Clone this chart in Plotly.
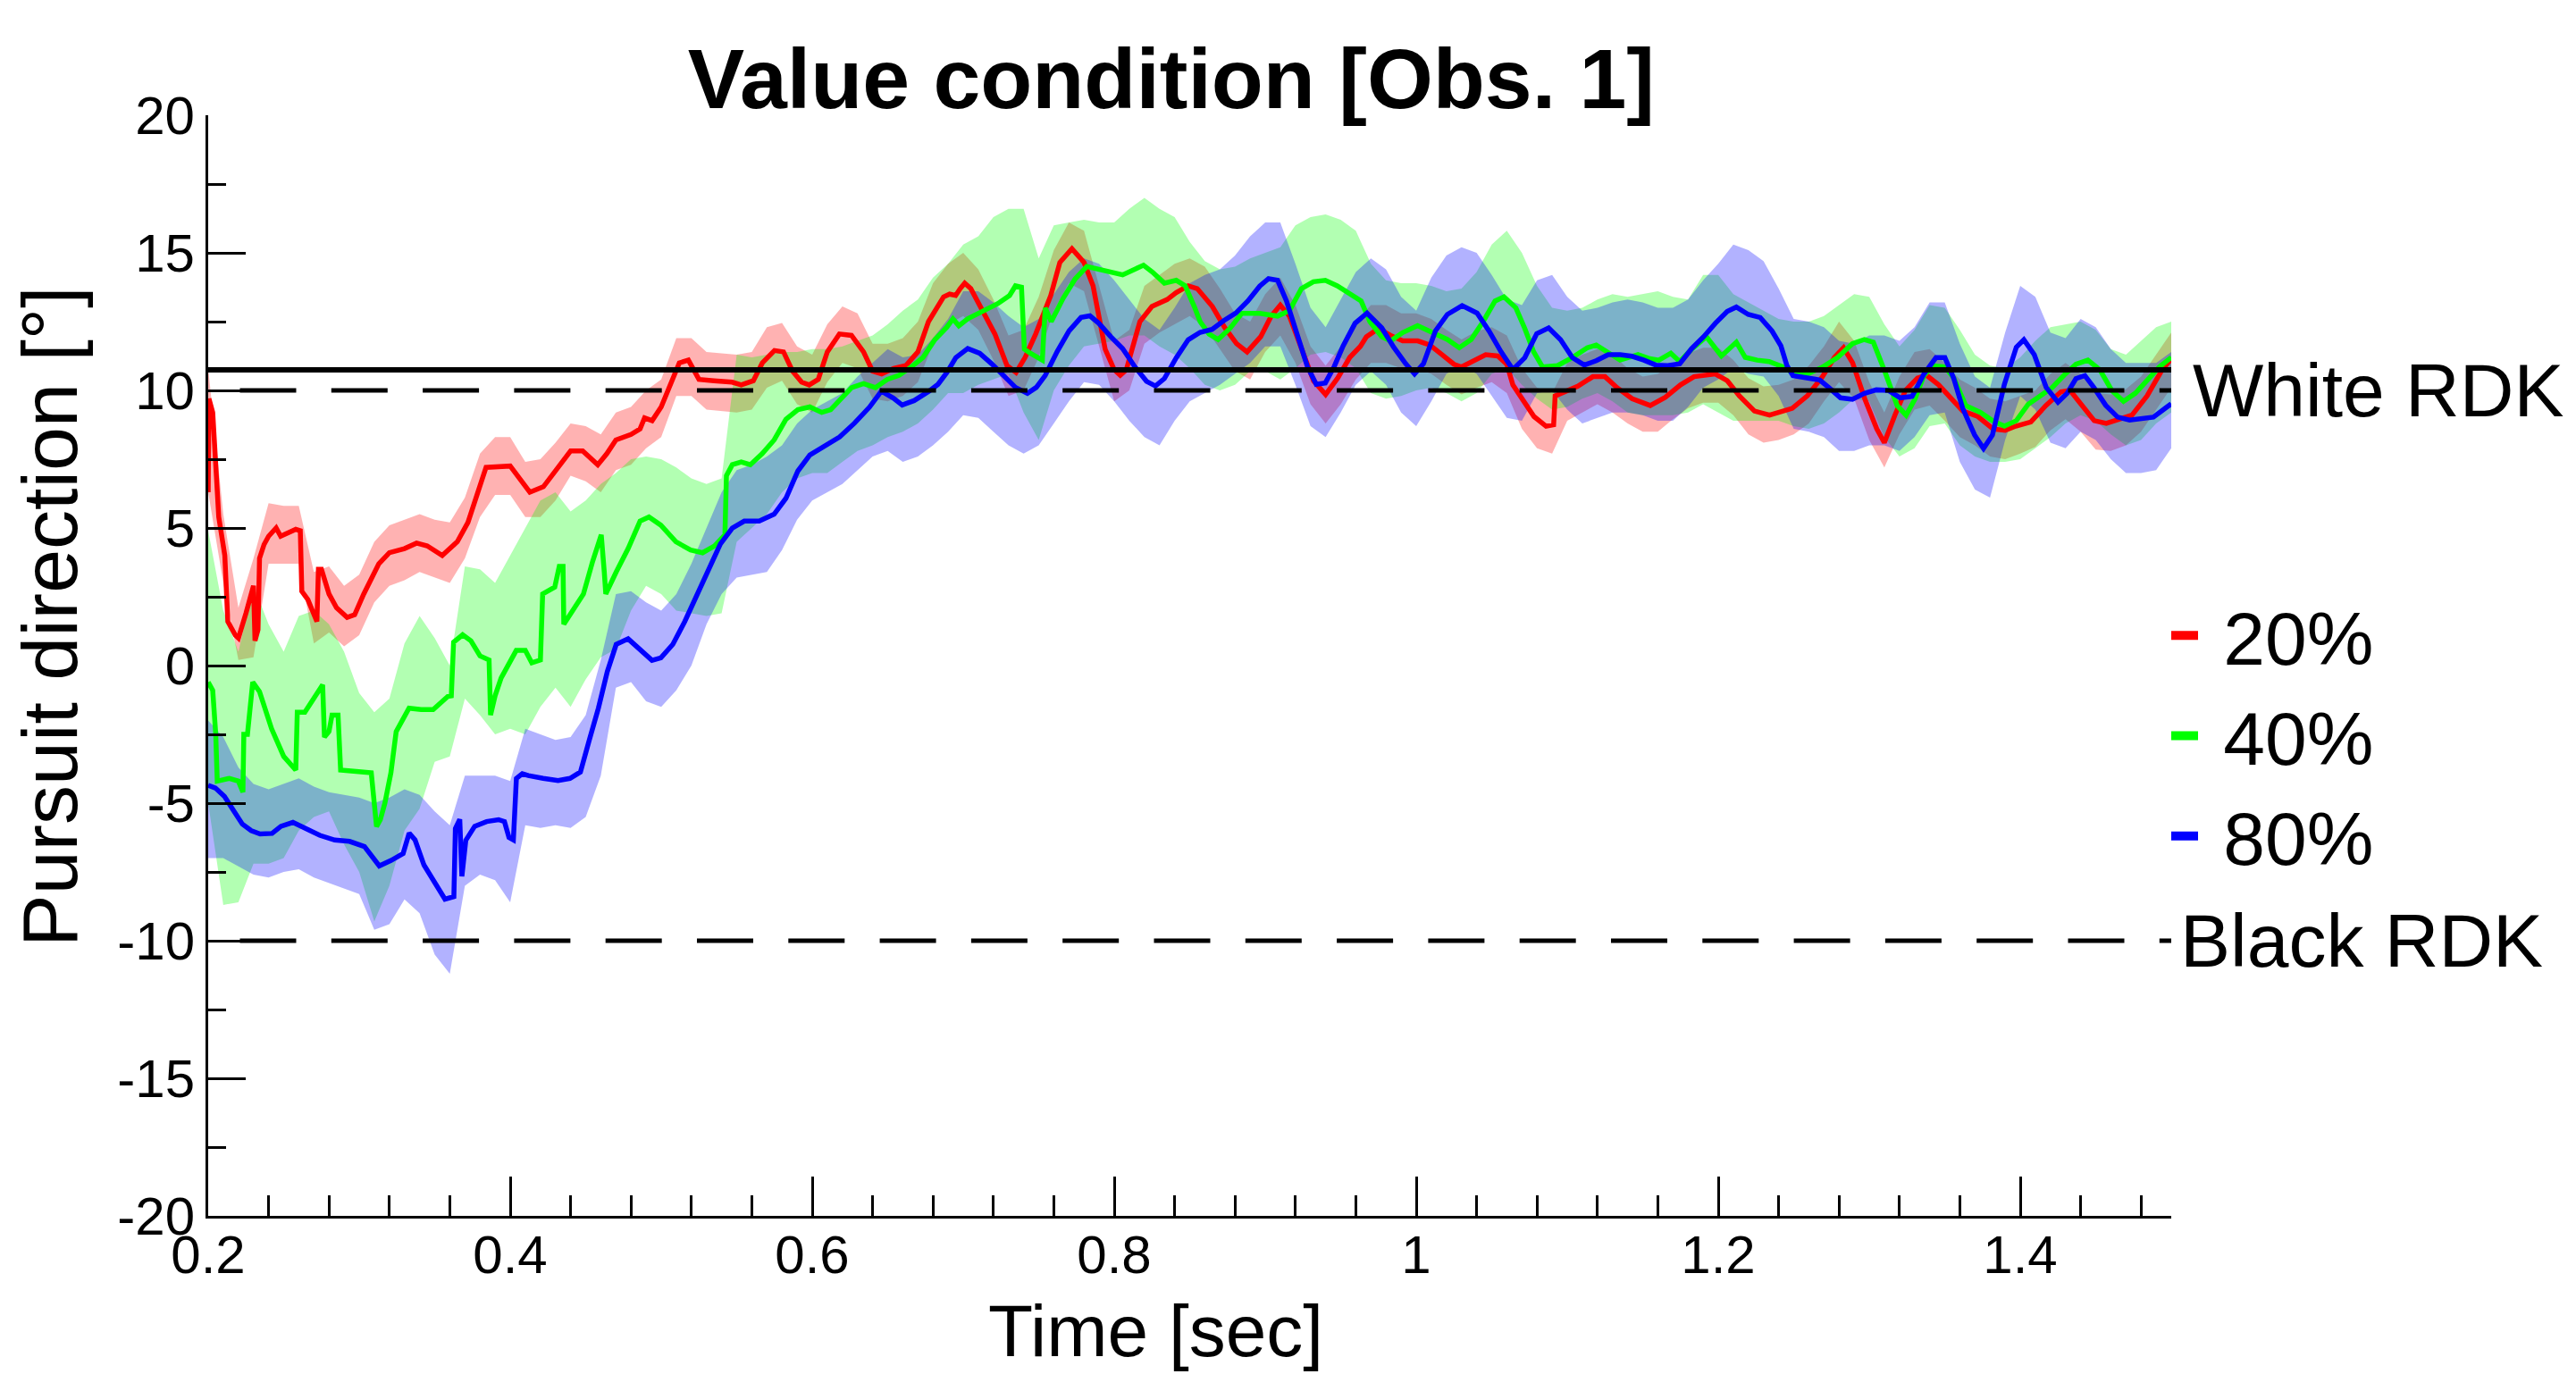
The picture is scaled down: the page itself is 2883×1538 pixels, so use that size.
import plotly.graph_objects as go

# ---------------- data ----------------
SERIES_NAMES = ["20%", "40%", "80%"]

red_t = [0.200, 0.2005, 0.203, 0.205, 0.207, 0.211, 0.213, 0.218, 0.220, 0.225,
         0.229, 0.230, 0.231, 0.233, 0.234, 0.237, 0.240, 0.245, 0.248, 0.252,
         0.258, 0.261, 0.262, 0.266, 0.272, 0.273, 0.275, 0.280, 0.285, 0.292,
         0.297, 0.303, 0.313, 0.320, 0.330, 0.338, 0.345, 0.355, 0.365, 0.372,
         0.378, 0.384, 0.400, 0.408, 0.413, 0.422, 0.432, 0.440, 0.448, 0.458,
         0.464, 0.470, 0.480, 0.486, 0.489, 0.494, 0.500, 0.506, 0.512, 0.518,
         0.522, 0.525, 0.535, 0.547, 0.553, 0.561, 0.567, 0.575, 0.581, 0.587,
         0.593, 0.598, 0.604, 0.610, 0.618, 0.626, 0.634, 0.640, 0.646, 0.654,
         0.662, 0.670, 0.677, 0.683, 0.687, 0.691, 0.695, 0.698, 0.701, 0.705,
         0.713, 0.721, 0.729, 0.735, 0.741, 0.748, 0.758, 0.764, 0.772, 0.780,
         0.786, 0.791, 0.794, 0.800, 0.804, 0.808, 0.813, 0.817, 0.825, 0.835,
         0.841, 0.849, 0.855, 0.865, 0.873, 0.881, 0.888, 0.897, 0.904, 0.910,
         0.916, 0.924, 0.932, 0.940, 0.948, 0.956, 0.963, 0.967, 0.975, 0.983,
         0.991, 1.001, 1.009, 1.017, 1.025, 1.030, 1.038, 1.046, 1.054, 1.060,
         1.064, 1.070, 1.078, 1.086, 1.091, 1.092, 1.100, 1.107, 1.117, 1.125,
         1.133, 1.143, 1.155, 1.165, 1.175, 1.184, 1.198, 1.206, 1.214, 1.224,
         1.234, 1.240, 1.249, 1.259, 1.269, 1.277, 1.283, 1.289, 1.297, 1.305,
         1.310, 1.317, 1.324, 1.332, 1.338, 1.346, 1.354, 1.362, 1.372, 1.382,
         1.390, 1.397, 1.407, 1.417, 1.427, 1.433, 1.441, 1.449, 1.457, 1.465,
         1.474, 1.484, 1.494, 1.500]
red_mean = [6.3, 9.7, 9.2, 7.6, 5.4, 4.0, 1.6, 1.1, 1.0, 1.9,
            2.6, 2.9, 0.9, 1.3, 3.9, 4.4, 4.7, 5.0, 4.7, 4.8,
            4.95, 4.9, 2.7, 2.4, 1.6, 3.5, 3.5, 2.6, 2.1, 1.75,
            1.85, 2.6, 3.7, 4.1, 4.25, 4.45, 4.35, 4.0, 4.5, 5.2,
            6.2, 7.2, 7.25, 6.7, 6.3, 6.5, 7.2, 7.8, 7.8, 7.3,
            7.7, 8.2, 8.4, 8.6, 9.0, 8.9, 9.4, 10.2, 11.0, 11.1,
            10.7, 10.4, 10.35, 10.3, 10.2, 10.35, 11.0, 11.45, 11.4, 10.7,
            10.3, 10.2, 10.4, 11.4, 12.05, 12.0, 11.4, 10.7, 10.6, 10.8,
            10.9, 11.4, 12.5, 13.0, 13.4, 13.5, 13.45, 13.7, 13.9, 13.7,
            12.9, 12.05, 10.9, 10.65, 11.2, 12.05, 13.45, 14.65, 15.15, 14.65,
            13.8, 12.4, 11.5, 10.75, 10.55, 10.75, 11.75, 12.5, 13.05, 13.3,
            13.55, 13.8, 13.7, 13.05, 12.3, 11.7, 11.4, 11.95, 12.7, 13.1,
            12.7, 11.5, 10.35, 9.85, 10.45, 11.2, 11.6, 11.95, 12.25, 12.0,
            11.8, 11.8, 11.65, 11.3, 10.95, 10.85, 11.1, 11.3, 11.25, 10.95,
            10.2, 9.7, 9.05, 8.7, 8.75, 9.8, 10.0, 10.15, 10.5, 10.5,
            10.1, 9.7, 9.45, 9.75, 10.2, 10.5, 10.6, 10.35, 9.8, 9.25,
            9.1, 9.2, 9.35, 9.8, 10.5, 11.2, 11.55, 11.0, 9.7, 8.6,
            8.1, 9.1, 10.0, 10.45, 10.55, 10.2, 9.7, 9.25, 9.05, 8.6,
            8.55, 8.7, 8.85, 9.45, 9.95, 10.0, 9.45, 8.9, 8.8, 8.95,
            9.1, 9.8, 10.75, 11.15]

green_t = [0.200, 0.203, 0.205, 0.206, 0.214, 0.220, 0.223, 0.2236, 0.226, 0.2295,
           0.234, 0.242, 0.250, 0.258, 0.259, 0.264, 0.2758, 0.277, 0.280, 0.282,
           0.286, 0.2877, 0.298, 0.308, 0.3115, 0.314, 0.317, 0.321, 0.3245, 0.333,
           0.341, 0.349, 0.3587, 0.361, 0.3625, 0.3685, 0.374, 0.380, 0.386, 0.387,
           0.390, 0.394, 0.404, 0.410, 0.4143, 0.420, 0.4215, 0.4295, 0.4325, 0.435,
           0.4355, 0.4415, 0.4485, 0.4544, 0.4593, 0.4603, 0.4623, 0.4633, 0.4702, 0.4781,
           0.4860, 0.4919, 0.4998, 0.5097, 0.5195, 0.5274, 0.5353, 0.5422, 0.5432, 0.5471,
           0.5530, 0.5590, 0.5669, 0.5748, 0.5826, 0.5905, 0.5984, 0.6063, 0.6122, 0.6182,
           0.6261, 0.6340, 0.6418, 0.6497, 0.6576, 0.6655, 0.6734, 0.6813, 0.6892, 0.6932,
           0.6971, 0.7030, 0.7129, 0.7228, 0.7307, 0.7346, 0.7386, 0.7405, 0.7445, 0.7484,
           0.7524, 0.7543, 0.7583, 0.7662, 0.7741, 0.7819, 0.7898, 0.7977, 0.8056, 0.8135,
           0.8194, 0.8253, 0.8332, 0.8411, 0.8470, 0.8530, 0.8569, 0.8628, 0.8688, 0.8766,
           0.8845, 0.8964, 0.9082, 0.9161, 0.9240, 0.9319, 0.9398, 0.9477, 0.9556, 0.9635,
           0.9693, 0.9772, 0.9831, 0.9910, 1.0009, 1.0107, 1.0206, 1.0285, 1.0364, 1.0443,
           1.0522, 1.0581, 1.0660, 1.0719, 1.0778, 1.0837, 1.0936, 1.1035, 1.1133, 1.1192,
           1.1271, 1.1350, 1.1469, 1.1547, 1.1607, 1.1686, 1.1745, 1.1824, 1.1922, 1.2021,
           1.2120, 1.2179, 1.2258, 1.2337, 1.2455, 1.2495, 1.2593, 1.2692, 1.2791, 1.2889,
           1.2968, 1.3027, 1.3106, 1.3185, 1.3244, 1.3304, 1.3363, 1.3422, 1.3501, 1.3560,
           1.3639, 1.3737, 1.3816, 1.3895, 1.3974, 1.4053, 1.4132, 1.4211, 1.4290, 1.4369,
           1.4448, 1.4527, 1.4606, 1.4684, 1.4763, 1.4842, 1.4921, 1.5000]
green_mean = [-0.6, -0.9, -2.5, -4.2, -4.1, -4.2, -4.6, -2.5, -2.5, -0.6,
              -0.95, -2.3, -3.3, -3.8, -1.7, -1.7, -0.7, -2.6, -2.4, -1.8,
              -1.8, -3.8, -3.85, -3.9, -5.85, -5.6, -5.0, -3.9, -2.4, -1.55,
              -1.6, -1.6, -1.12, -1.1, 0.85, 1.12, 0.9, 0.35, 0.2, -1.8,
              -1.1, -0.45, 0.55, 0.55, 0.1, 0.2, 2.6, 2.85, 3.6, 3.6,
              1.5, 2.0, 2.6, 3.75, 4.6, 4.75, 3.4, 2.6, 3.4, 4.25,
              5.25, 5.4, 5.1, 4.5, 4.2, 4.1, 4.35, 4.75, 6.9, 7.3,
              7.4, 7.3, 7.7, 8.2, 8.95, 9.3, 9.4, 9.2, 9.3, 9.65,
              10.1, 10.25, 10.1, 10.4, 10.55, 10.85, 11.2, 11.85, 12.3, 12.6,
              12.35, 12.6, 12.9, 13.15, 13.45, 13.8, 13.75, 11.5, 11.35, 11.2,
              11.1, 13.0, 12.5, 13.35, 14.05, 14.5, 14.4, 14.3, 14.2, 14.4,
              14.55, 14.3, 13.9, 14.0, 13.8, 13.05, 12.5, 12.05, 11.85, 12.25,
              12.8, 12.8, 12.7, 12.9, 13.7, 13.95, 14.0, 13.8, 13.55, 13.25,
              12.5, 11.95, 11.8, 12.1, 12.35, 12.1, 11.85, 11.55, 11.85, 12.5,
              13.25, 13.4, 13.0, 12.25, 11.4, 10.85, 10.9, 11.2, 11.55, 11.65,
              11.4, 11.1, 11.3, 11.15, 11.1, 11.35, 11.05, 11.5, 11.95, 11.25,
              11.75, 11.2, 11.1, 11.05, 10.8, 10.6, 10.6, 10.85, 11.2, 11.7,
              11.85, 11.75, 10.65, 9.45, 9.1, 9.7, 10.55, 10.9, 10.85, 10.45,
              9.45, 9.2, 8.9, 8.7, 8.9, 9.5, 9.8, 10.1, 10.55, 10.95,
              11.1, 10.75, 10.0, 9.6, 9.9, 10.35, 10.85, 11.2]

blue_t = [0.200, 0.2048, 0.2108, 0.2167, 0.2226, 0.2285, 0.2344, 0.2423, 0.2482, 0.2561,
          0.2640, 0.2739, 0.2838, 0.2936, 0.3035, 0.3094, 0.3133, 0.3212, 0.3291, 0.3331,
          0.3370, 0.3429, 0.3508, 0.3568, 0.3627, 0.3637, 0.3666, 0.3680, 0.3706, 0.3765,
          0.3844, 0.3923, 0.3962, 0.3992, 0.4021, 0.4041, 0.4080, 0.4120, 0.4218, 0.4317,
          0.4396, 0.4465, 0.4524, 0.4584, 0.4643, 0.4702, 0.4781, 0.4860, 0.4939, 0.4998,
          0.5077, 0.5156, 0.5235, 0.5313, 0.5392, 0.5471, 0.5550, 0.5649, 0.5748, 0.5826,
          0.5905, 0.5984, 0.6083, 0.6182, 0.6280, 0.6379, 0.6458, 0.6537, 0.6596, 0.6675,
          0.6773, 0.6833, 0.6892, 0.6951, 0.7030, 0.7109, 0.7188, 0.7267, 0.7346, 0.7425,
          0.7484, 0.7543, 0.7622, 0.7701, 0.7780, 0.7839, 0.7898, 0.7977, 0.8056, 0.8135,
          0.8214, 0.8273, 0.8332, 0.8411, 0.8490, 0.8569, 0.8648, 0.8727, 0.8806, 0.8885,
          0.8964, 0.9022, 0.9082, 0.9141, 0.9200, 0.9279, 0.9338, 0.9398, 0.9457, 0.9516,
          0.9595, 0.9674, 0.9772, 0.9851, 0.9930, 0.9989, 1.0048, 1.0127, 1.0206, 1.0304,
          1.0403, 1.0482, 1.0561, 1.0640, 1.0719, 1.0798, 1.0877, 1.0956, 1.1034, 1.1113,
          1.1192, 1.1271, 1.1350, 1.1429, 1.1508, 1.1587, 1.1666, 1.1745, 1.1824, 1.1903,
          1.1981, 1.2060, 1.2120, 1.2199, 1.2278, 1.2356, 1.2415, 1.2455, 1.2495, 1.2593,
          1.2672, 1.2731, 1.2810, 1.2889, 1.2968, 1.3047, 1.3126, 1.3205, 1.3284, 1.3363,
          1.3442, 1.3501, 1.3560, 1.3619, 1.3698, 1.3757, 1.3816, 1.3895, 1.3974, 1.4024,
          1.4093, 1.4172, 1.4250, 1.4310, 1.4369, 1.4428, 1.4487, 1.4566, 1.4645, 1.4724,
          1.4803, 1.4882, 1.4960, 1.5000]
blue_mean = [-4.35, -4.45, -4.76, -5.26, -5.76, -6.0, -6.12, -6.1, -5.84, -5.7,
             -5.92, -6.17, -6.34, -6.39, -6.58, -7.0, -7.28, -7.08, -6.83, -6.09,
             -6.34, -7.25, -7.99, -8.49, -8.4, -5.92, -5.59, -7.66, -6.35, -5.84,
             -5.67, -5.6, -5.67, -6.25, -6.34, -4.1, -3.93, -4.0, -4.1, -4.18,
             -4.1, -3.87, -2.7, -1.55, -0.22, 0.77, 0.97, 0.6, 0.19, 0.28,
             0.77, 1.6, 2.51, 3.42, 4.42, 5.0, 5.25, 5.25, 5.5, 6.08,
             7.07, 7.65, 7.98, 8.31, 8.81, 9.39, 9.97, 9.72, 9.47, 9.63,
             9.97, 10.22, 10.65, 11.19, 11.52, 11.35, 10.97, 10.54, 10.11, 9.89,
             10.11, 10.54, 11.41, 12.16, 12.65, 12.71, 12.44, 11.95, 11.52, 10.87,
             10.33, 10.16, 10.43, 11.19, 11.84, 12.11, 12.22, 12.54, 12.81, 13.25,
             13.79, 14.06, 14.0, 13.25, 12.27, 10.87, 10.22, 10.27, 10.87, 11.62,
             12.44, 12.81, 12.27, 11.57, 10.97, 10.6, 10.97, 12.16, 12.76, 13.08,
             12.81, 12.16, 11.41, 10.76, 11.19, 12.06, 12.27, 11.84, 11.19, 10.92,
             11.08, 11.3, 11.3, 11.24, 11.1, 10.92, 10.9, 10.97, 11.52, 11.95,
             12.44, 12.87, 13.03, 12.76, 12.65, 12.16, 11.62, 10.9, 10.54, 10.43,
             10.38, 10.11, 9.73, 9.68, 9.89, 10.02, 10.0, 9.73, 9.78, 10.6,
             11.19, 11.19, 10.43, 9.35, 8.38, 7.89, 8.38, 10.22, 11.57, 11.84,
             11.3, 10.11, 9.57, 9.89, 10.43, 10.54, 10.11, 9.46, 9.03, 8.92,
             8.97, 9.03, 9.35, 9.51]

# shaded error bands, sampled every 10 ms from 0.20 s to 1.50 s
BAND_T = [round(0.20 + 0.01 * i, 2) for i in range(131)]

red_hi = [10.8, 5.5, 2.1, 3.9, 5.9, 5.8, 5.8, 3.4, 3.6, 2.9,
          3.3, 4.5, 5.1, 5.3, 5.5, 5.3, 5.2, 6.1, 7.7, 8.3,
          8.3, 7.4, 7.5, 8.1, 8.8, 8.7, 8.4, 9.2, 9.4, 10.0,
          10.4, 11.9, 11.9, 11.4, 11.35, 11.3, 11.4, 12.3, 12.45, 11.6,
          11.3, 12.4, 13.05, 12.8, 11.7, 11.7, 11.9, 12.5, 13.9, 14.6,
          15.0, 14.4, 13.3, 12.0, 12.2, 13.4, 15.1, 16.1, 15.8, 13.8,
          11.8, 12.2, 13.8, 14.2, 14.6, 14.8, 14.5, 13.7, 12.8, 12.5,
          13.5, 14.1, 13.1, 11.6, 10.9, 11.6, 12.5, 13.1, 13.1, 12.8,
          12.8, 12.6, 12.2, 11.85, 12.15, 12.3, 12.0, 10.8, 10.1, 9.9,
          11.0, 11.3, 11.5, 11.3, 10.8, 10.5, 10.6, 10.95, 11.35, 11.55,
          11.55, 11.1, 10.45, 10.15, 10.2, 10.4, 10.9, 11.6, 12.5, 11.8,
          10.3, 9.2, 10.5, 11.4, 11.5, 11.0, 10.4, 10.1, 9.7, 9.6,
          9.8, 10.0, 10.6, 11.0, 10.6, 9.9, 9.85, 10.05, 10.5, 11.3,
          12.1]
red_lo = [6.3, 3.0, 0.2, 0.3, 3.7, 3.7, 3.7, 0.8, 1.2, 0.7,
          1.1, 2.3, 2.9, 3.1, 3.4, 3.2, 3.0, 3.9, 5.4, 6.2,
          6.2, 5.4, 5.4, 6.0, 6.9, 6.7, 6.3, 7.1, 7.3, 7.9,
          8.3, 9.8, 9.8, 9.3, 9.25, 9.2, 9.3, 10.1, 10.35, 9.5,
          9.2, 10.3, 11.0, 10.8, 9.7, 9.6, 9.8, 10.3, 11.7, 12.4,
          12.7, 12.2, 11.1, 9.8, 10.0, 11.2, 12.9, 13.9, 13.6, 11.6,
          9.6, 10.0, 11.7, 12.1, 12.4, 12.7, 12.3, 11.5, 10.7, 10.4,
          11.4, 12.0, 11.0, 9.5, 8.8, 9.5, 10.4, 11.0, 11.0, 10.8,
          10.8, 10.6, 10.2, 9.85, 10.1, 10.3, 9.9, 8.6, 7.9, 7.7,
          8.9, 9.2, 9.5, 9.2, 8.8, 8.5, 8.5, 8.95, 9.35, 9.55,
          9.55, 9.1, 8.4, 8.1, 8.2, 8.4, 8.8, 9.6, 10.3, 9.7,
          8.2, 7.2, 8.4, 9.3, 9.45, 8.9, 8.3, 8.0, 7.6, 7.5,
          7.7, 7.95, 8.55, 8.95, 8.5, 7.85, 7.8, 8.0, 8.5, 9.3,
          10.1]

green_hi = [4.9, 2.0, 0.5, 2.9, 1.5, 0.5, 1.8, 2.0, 1.5, 0.5,
            -1.0, -1.7, -1.2, 0.8, 1.8, 1.0, 0.0, 3.6, 3.5, 3.0,
            4.0, 5.0, 6.0, 6.3, 5.6, 6.0, 6.6, 7.0, 7.5, 7.6,
            7.5, 7.2, 6.8, 6.6, 6.8, 11.3, 11.2, 11.3, 11.4, 11.4,
            11.5, 11.5, 11.6, 11.8, 12.0, 12.4, 12.9, 13.3, 14.1, 14.6,
            15.3, 15.6, 16.3, 16.6, 16.6, 14.8, 16.0, 16.1, 16.2, 16.1,
            16.1, 16.6, 17.0, 16.6, 16.3, 15.4, 14.7, 14.4, 14.5, 14.8,
            15.0, 15.2, 16.0, 16.3, 16.4, 16.2, 15.8, 14.6, 14.0, 13.9,
            13.9, 13.8, 13.6, 13.7, 14.3, 15.3, 15.8, 15.0, 13.8, 13.0,
            12.9, 13.0, 13.3, 13.5, 13.4, 13.5, 13.6, 13.4, 13.3, 14.2,
            14.2, 13.5, 13.2, 12.9, 12.6, 12.5, 12.5, 12.7, 13.1, 13.5,
            13.4, 12.4, 11.6, 12.2, 13.1, 13.0, 12.2, 11.3, 10.9, 10.8,
            11.2, 11.8, 12.3, 12.4, 12.5, 12.2, 11.5, 11.3, 11.8, 12.3,
            12.5]
green_lo = [-5.0, -8.7, -8.6, -7.2, -7.2, -7.0, -6.0, -5.5, -5.3, -6.5,
            -7.5, -9.3, -8.0, -6.0, -5.2, -3.5, -3.3, -1.2, -1.8, -2.5,
            -2.3, -2.5, -1.5, -0.8, -1.5, -0.5, 0.3, 0.6, 2.0, 2.9,
            2.6, 2.0, 1.9, 1.8, 1.9, 4.5, 5.0, 5.5, 6.3, 6.8,
            7.0, 7.0, 7.4, 7.8, 8.0, 8.3, 8.5, 8.8, 9.3, 9.9,
            9.9, 10.2, 10.4, 10.6, 9.2, 8.2, 10.0, 10.9, 11.6, 11.7,
            11.8, 12.0, 12.0, 11.6, 11.3, 10.8, 10.2, 10.0, 10.2, 10.7,
            10.7, 10.4, 10.8, 11.3, 11.4, 11.2, 10.8, 9.9, 9.7, 9.8,
            10.0, 10.1, 9.9, 9.6, 9.9, 10.6, 10.8, 10.2, 9.7, 9.3,
            9.4, 9.7, 9.9, 9.6, 9.2, 9.1, 9.1, 9.1, 9.2, 9.5,
            9.2, 8.9, 8.9, 8.9, 8.9, 8.7, 8.6, 8.8, 9.2, 9.7,
            9.6, 8.3, 7.6, 7.9, 8.7, 8.8, 8.0, 7.6, 7.4, 7.4,
            7.5, 7.9, 8.3, 8.8, 9.1, 8.9, 8.4, 8.0, 8.2, 8.8,
            9.2]

blue_hi = [-2.0, -2.6, -3.7, -4.3, -4.5, -4.3, -4.1, -4.4, -4.6, -4.7,
           -4.8, -5.0, -4.8, -4.5, -4.7, -5.3, -5.8, -4.0, -4.0, -4.0,
           -4.2, -2.3, -2.5, -2.7, -2.6, -1.8, 0.2, 2.6, 2.7, 2.3,
           2.0, 2.6, 3.7, 5.0, 6.3, 7.1, 7.3, 7.6, 8.0, 8.8,
           9.3, 9.6, 9.9, 10.5, 11.0, 11.5, 11.2, 11.3, 11.9, 12.6,
           13.6, 13.6, 13.2, 12.7, 12.3, 12.6, 13.5, 14.3, 14.8, 14.6,
           14.0, 13.3, 12.6, 12.2, 13.0, 13.9, 14.2, 14.4, 14.9, 15.6,
           16.1, 16.1, 14.6, 13.0, 12.3, 13.3, 14.3, 14.8, 14.4, 13.4,
           12.9, 14.1, 14.9, 15.2, 15.0, 14.2, 13.3, 13.1, 14.0, 14.2,
           13.4, 12.9, 13.0, 13.2, 13.3, 13.2, 13.0, 13.0, 13.3, 14.0,
           14.6, 15.3, 15.1, 14.7, 13.7, 12.6, 12.5, 12.3, 11.8, 11.7,
           12.0, 12.0, 11.8, 12.3, 13.2, 13.2, 11.7, 10.5, 10.1, 12.1,
           13.8, 13.4, 12.1, 11.9, 12.6, 12.3, 11.5, 11.0, 11.0, 11.0,
           11.4]
blue_lo = [-7.0, -7.0, -7.3, -7.6, -7.7, -7.5, -7.4, -7.7, -7.9, -8.1,
           -8.3, -9.6, -9.4, -8.5, -9.0, -10.5, -11.2, -8.0, -7.6, -7.8,
           -8.6, -5.8, -5.9, -5.8, -5.9, -5.5, -4.0, -0.8, -0.6, -1.3,
           -1.5, -0.9, 0.0, 1.5, 2.6, 3.2, 3.3, 3.4, 4.2, 5.3,
           6.0, 6.3, 6.6, 7.1, 7.6, 7.8, 7.4, 7.6, 8.0, 8.5,
           9.1, 9.0, 8.5, 8.0, 7.7, 8.0, 8.8, 9.6, 10.3, 10.2,
           9.6, 8.9, 8.3, 8.0, 8.9, 9.6, 9.9, 10.2, 10.6, 11.0,
           11.6, 11.6, 10.2, 8.7, 8.3, 9.2, 10.2, 10.7, 10.2, 9.2,
           8.7, 9.6, 10.6, 10.9, 10.6, 9.8, 9.0, 8.9, 9.9, 10.0,
           9.3, 8.8, 9.0, 9.2, 9.2, 9.1, 8.9, 8.9, 9.4, 10.1,
           10.4, 10.8, 10.6, 10.5, 9.8, 8.6, 8.5, 8.3, 7.8, 7.8,
           8.0, 8.0, 7.8, 8.3, 9.1, 9.2, 7.4, 6.4, 6.1, 8.2,
           9.8, 9.3, 8.1, 7.9, 8.5, 8.2, 7.5, 7.0, 7.0, 7.1,
           7.9]

# reference lines and their labels
WHITE_RDK = 10.0
BLACK_RDK = -10.0
SOLID_REF = 10.75
DASH_START = 0.221
X_RANGE = [0.2, 1.5]
Y_RANGE = [-20, 20]
X_TICKS = [0.2, 0.4, 0.6, 0.8, 1.0, 1.2, 1.4]
X_TICK_LABELS = ["0.2", "0.4", "0.6", "0.8", "1", "1.2", "1.4"]
Y_TICKS = [-20, -15, -10, -5, 0, 5, 10, 15, 20]
Y_TICK_LABELS = ["-20", "-15", "-10", "-5", "0", "5", "10", "15", "20"]

# ---------------- figure ----------------
FONT = "Liberation Sans, Arial, Helvetica, sans-serif"
LINE_COLORS = ["#ff0000", "#00ff00", "#0000ff"]
FILL_COLORS = ["rgba(255,0,0,0.3)", "rgba(0,255,0,0.3)", "rgba(0,0,255,0.3)"]

W, H = 2883, 1538
ML, MR, MT, MB = 233, 453, 129, 177
PW, PH = W - ML - MR, H - MT - MB

series = [
    (red_t, red_mean, red_lo, red_hi),
    (green_t, green_mean, green_lo, green_hi),
    (blue_t, blue_mean, blue_lo, blue_hi),
]

fig = go.Figure()

# shaded bands first
for (t, m, lo, hi), name, fc in zip(series, SERIES_NAMES, FILL_COLORS):
    fig.add_trace(go.Scatter(
        x=BAND_T + BAND_T[::-1], y=hi + lo[::-1],
        mode="lines", fill="toself", fillcolor=fc,
        line=dict(width=0, color=fc), hoverinfo="skip",
        showlegend=False, legendgroup=name,
    ))

# mean traces
for (t, m, lo, hi), name, lc in zip(series, SERIES_NAMES, LINE_COLORS):
    fig.add_trace(go.Scatter(
        x=t, y=m, mode="lines", name=name, legendgroup=name,
        line=dict(color=lc, width=5.5), showlegend=False,
    ))

# legend entries (short thick marks like the original)
for name, lc in zip(SERIES_NAMES, LINE_COLORS):
    fig.add_trace(go.Scatter(
        x=[None], y=[None], mode="lines", name="\u00a0" + name, legendgroup=name,
        line=dict(color=lc, width=13), showlegend=True,
    ))

# black reference lines
fig.add_trace(go.Scatter(x=X_RANGE, y=[SOLID_REF, SOLID_REF], mode="lines",
                         line=dict(color="black", width=6), showlegend=False,
                         hoverinfo="skip"))
for yv in (WHITE_RDK, BLACK_RDK):
    fig.add_trace(go.Scatter(x=[DASH_START, X_RANGE[1]], y=[yv, yv], mode="lines",
                             line=dict(color="black", width=5, dash="63px,39.3px"),
                             showlegend=False, hoverinfo="skip"))

fig.add_annotation(x=X_RANGE[1], y=WHITE_RDK, xref="x", yref="y", text="White RDK",
                   showarrow=False, xanchor="left", yanchor="middle", xshift=22,
                   font=dict(family=FONT, size=84, color="black"))
fig.add_annotation(x=X_RANGE[1], y=BLACK_RDK, xref="x", yref="y", text="Black RDK",
                   showarrow=False, xanchor="left", yanchor="middle", xshift=8,
                   font=dict(family=FONT, size=84, color="black"))

# axis titles, placed where the original has them (pixel positions -> paper fractions)
fig.add_annotation(x=(1293 - ML) / PW, y=(H - 1489 - MB) / PH, xref="paper", yref="paper",
                   text="Time [sec]", showarrow=False, xanchor="center", yanchor="middle",
                   font=dict(family=FONT, size=82, color="black"))
fig.add_annotation(x=(55 - ML) / PW, y=(H - 690 - MB) / PH, xref="paper", yref="paper",
                   text="Pursuit direction [°]", textangle=-90, showarrow=False,
                   xanchor="center", yanchor="middle",
                   font=dict(family=FONT, size=88, color="black"))

axis_common = dict(
    showline=True, linecolor="black", linewidth=3, showgrid=False, zeroline=False,
    ticks="inside", tickcolor="black", tickwidth=2.5, mirror=False,
    tickfont=dict(family=FONT, size=60, color="black"),
)

fig.update_layout(
    width=W, height=H,
    margin=dict(l=ML, r=MR, t=MT, b=MB, autoexpand=False),
    paper_bgcolor="white", plot_bgcolor="white",
    font=dict(family=FONT, color="black"),
    title=dict(text="Value condition [Obs. 1]", x=0.4547, y=0.9428,
               xref="container", yref="container", xanchor="center", yanchor="middle",
               font=dict(family=FONT, size=95, color="black", weight="bold")),
    xaxis=dict(range=X_RANGE, tickmode="array", tickvals=X_TICKS, ticktext=X_TICK_LABELS,
               ticklen=44, ticklabelstandoff=-11,
               minor=dict(ticks="inside", ticklen=23, tickwidth=2.5, tickcolor="black",
                          tickmode="linear", tick0=0.2, dtick=0.04, showgrid=False),
               **axis_common),
    yaxis=dict(range=Y_RANGE, tickmode="array", tickvals=Y_TICKS, ticktext=Y_TICK_LABELS,
               ticklen=42, ticklabelstandoff=0,
               minor=dict(ticks="inside", ticklen=20, tickwidth=2.5, tickcolor="black",
                          tickmode="linear", tick0=0, dtick=2.5, showgrid=False),
               **axis_common),
    legend=dict(x=(2425 - ML) / PW, y=0.577, xanchor="left", yanchor="top",
                font=dict(family=FONT, size=84, color="black"),
                bgcolor="rgba(0,0,0,0)", borderwidth=0, itemwidth=30,
                tracegroupgap=0),
    showlegend=True,
)

fig.write_html("out.html", config={"displayModeBar": False},
               post_script="document.body.style.margin='0px';")
